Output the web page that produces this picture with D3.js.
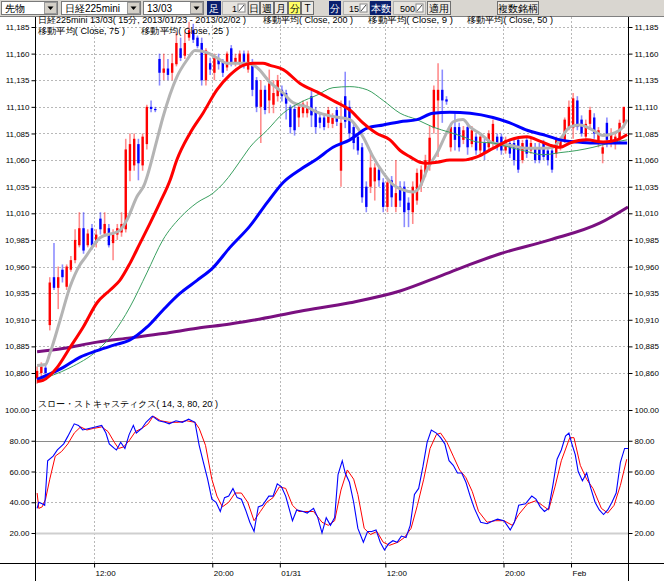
<!DOCTYPE html>
<html><head><meta charset="utf-8">
<script src="https://cdn.jsdelivr.net/npm/d3@7"></script>
<style>
body{margin:0;background:#fff;}
svg{display:block;}
text{font-family:"Liberation Sans",Arial,sans-serif;}
</style></head><body>
<svg id="c" width="664" height="581"></svg>
<script>
// ---------------- data ----------------
const opens  = [10855,10860,10865,10905,10950,10940,10957,10941,10957,10966,10980,10996,10980,10996,10982,11005,10991,10996,10982,10990,10992,10995,11050,11055,11075,11055,11075,11110,11108,11155,11142,11146,11142,11150,11165,11158,11175,11182,11175,11170,11135,11151,11142,11155,11152,11147,11165,11151,11151,11160,11145,11152,11135,11110,11126,11116,11112,11120,11126,11123,11110,11108,11100,11104,11104,11120,11107,11100,11100,11095,11094,11107,11050,11120,11110,11091,11082,11072,11035,11035,11040,11051,11039,11016,11041,11016,11035,11035,11020,11011,11022,11036,11047,11057,11090,11116,11126,11117,11072,11091,11091,11079,11091,11075,11082,11069,11076,11072,11076,11082,11082,11069,11076,11076,11079,11060,11079,11069,11072,11072,11076,11069,11069,11066,11072,11079,11091,11090,11116,11098,11082,11094,11100,11076,11066,11095,11076,11075,11080,11095];
const highs  = [10866,10870,10868,10950,10982,10960,10962,10962,10970,10995,11011,11011,10995,11000,10995,11011,11011,11000,10995,11000,11011,11080,11085,11085,11080,11085,11112,11116,11110,11160,11160,11155,11160,11180,11175,11180,11190,11188,11177,11175,11165,11156,11160,11160,11155,11162,11168,11160,11163,11163,11163,11155,11138,11135,11130,11145,11135,11140,11130,11126,11112,11112,11113,11116,11115,11125,11110,11105,11104,11110,11104,11110,11116,11143,11116,11095,11085,11076,11040,11069,11057,11055,11043,11043,11045,11060,11040,11040,11025,11040,11052,11055,11065,11092,11130,11151,11145,11120,11095,11104,11095,11092,11095,11092,11085,11085,11080,11088,11098,11085,11085,11082,11079,11079,11082,11079,11082,11080,11076,11076,11079,11072,11072,11082,11082,11100,11116,11123,11120,11102,11098,11110,11104,11091,11076,11100,11090,11085,11098,11110];
const lows   = [10850,10855,10856,10900,10938,10920,10945,10938,10955,10963,10978,10972,10978,10976,10978,10990,10988,10978,10966,10985,10988,10992,11040,11050,11041,11050,11070,11105,11105,11130,11135,11135,11135,11148,11153,11155,11172,11170,11165,11130,11130,11140,11135,11145,11138,11144,11148,11148,11148,11146,11142,11120,11105,11076,11103,11104,11104,11115,11115,11098,11085,11083,11091,11100,11100,11091,11085,11090,11088,11090,11090,11092,11035,11090,11080,11070,11065,11020,11011,11029,11022,11035,11011,11011,11016,11011,11016,10997,10997,11000,11018,11030,11044,11050,11085,11063,11095,11112,11068,11069,11068,11075,11065,11072,11065,11065,11060,11069,11072,11069,11065,11066,11062,11055,11048,11057,11062,11066,11057,11057,11060,11055,11048,11062,11069,11076,11088,11080,11088,11082,11079,11090,11080,11072,11057,11072,11072,11070,11076,11090];
const closes = [10862,10866,10860,10945,10940,10950,10950,10960,10966,10985,10996,10975,10991,10980,10990,10995,11000,10980,10990,10996,11000,11070,11075,11080,11057,11082,11110,11108,11107,11142,11146,11140,11151,11170,11156,11170,11182,11173,11167,11135,11163,11145,11156,11150,11142,11160,11151,11156,11160,11151,11160,11126,11110,11126,11107,11132,11123,11135,11120,11113,11091,11088,11110,11113,11110,11102,11091,11095,11091,11107,11100,11096,11095,11096,11085,11076,11069,11025,11016,11053,11053,11041,11016,11039,11025,11029,11022,11011,11013,11035,11048,11051,11060,11081,11126,11126,11116,11115,11091,11079,11072,11088,11072,11088,11069,11082,11066,11085,11094,11072,11069,11079,11066,11060,11051,11076,11066,11076,11060,11060,11063,11060,11051,11079,11079,11098,11110,11118,11091,11085,11094,11107,11085,11088,11072,11079,11085,11082,11095,11110];

// moving averages: [bar index, price]
const ma200 = [[0,10880],[6.1,10883],[14.2,10889],[22,10893],[29.8,10897],[37.9,10902],[45.7,10906],[50.4,10909],[62.3,10918],[74.1,10926],[86,10937],[95.5,10951],[102.6,10962],[109.7,10972],[121.5,10985],[133.4,11001],[140,11016]];
const ma9 = [[0,10867],[2,10868],[3,10878],[5.4,10909],[7.8,10941],[10.2,10962],[11.3,10968],[14.9,10987],[19.6,10994],[21.3,11004],[23.7,11026],[25.3,11036],[28.4,11079],[29.8,11100],[33.1,11138],[35.5,11154],[37.4,11163],[40.3,11161],[42.6,11156],[45,11151],[47.4,11151],[49.7,11151],[52.1,11147],[55.2,11133],[58.3,11123],[60.6,11114],[63.9,11110],[66.3,11105],[70.1,11101],[74.1,11098],[77.2,11082],[79.6,11063],[82,11048],[84.3,11037],[86.7,11032],[89.1,11030],[90.7,11035],[92.4,11051],[94.8,11067],[97.1,11086],[98.6,11096],[100.9,11098],[102.6,11091],[104.9,11085],[108,11076],[112,11074],[116.1,11071],[119.8,11071],[122.2,11072],[123.9,11079],[126.2,11091],[128.6,11093],[131.7,11088],[134.1,11083],[136.5,11085],[138.8,11091],[139.8,11098]];
const ma50 = [[0,10853],[7.8,10865],[14.2,10881],[18,10897],[22,10922],[26,10954],[29.8,10985],[33.9,11006],[37.9,11020],[41.7,11029],[44.1,11038],[48.8,11063],[50.4,11072],[54.5,11088],[58.3,11104],[62.3,11114],[66.3,11121],[70.1,11128],[74.1,11129],[78.2,11126],[82,11116],[86,11104],[90,11098],[93.8,11091],[97.8,11086],[100.9,11082],[104.2,11077],[108,11076],[112,11072],[116.1,11068],[119.8,11065],[123.9,11067],[127.9,11069],[131.7,11072],[135.7,11076],[139.8,11079]];
const ma75 = [[0,10854],[6.1,10865],[10.2,10875],[14.2,10881],[18,10886],[22,10891],[26,10903],[29.8,10919],[33.9,10935],[37.9,10947],[41.7,10959],[45.7,10978],[50.4,10998],[54.5,11020],[58.3,11039],[62.3,11051],[66.3,11061],[70.1,11072],[74.1,11079],[78.2,11090],[82,11093],[86,11096],[90,11098],[93.8,11104],[97.8,11105],[102.6,11104],[108,11100],[112,11095],[116.1,11088],[119.8,11084],[123.9,11079],[127.9,11077],[131.7,11076],[135.7,11076],[139.8,11076]];
const ma25 = [[0,10852],[1.4,10853],[4.7,10865],[7.8,10884],[10.9,10903],[14.2,10926],[17.3,10938],[19.6,10947],[22,10963],[24.4,10982],[26.8,11001],[29.1,11020],[31.5,11041],[33.1,11060],[36.2,11085],[39.3,11104],[42.6,11126],[45.7,11140],[48.8,11149],[51.2,11151],[53.5,11151],[55.2,11149],[58.3,11145],[62.3,11132],[66.3,11124],[70.1,11116],[74.1,11107],[77.2,11095],[80.5,11085],[83.6,11079],[86,11069],[88.4,11063],[90.7,11058],[92.4,11057],[94.8,11058],[97.8,11060],[100.9,11060],[104.2,11063],[108,11071],[112,11079],[116.1,11082],[118.4,11079],[121.5,11074],[123.9,11072],[126.2,11076],[130.3,11079],[134.1,11077],[137.4,11079],[139.8,11084]];

// slow stochastics: [bar index, value]
const stochK = [[0,36],[0.4,40],[1.2,39],[1.8,38],[2.5,67],[3.8,70],[4.8,74],[6.3,78],[7.3,83],[8.8,91],[9.8,90],[10.8,87],[12.3,88],[13.8,89],[15.3,90],[16.3,85],[17.1,78],[18.3,75],[18.8,74],[19.8,79],[20.8,75],[21.8,84],[22.8,90],[23.5,85],[24.8,88],[25.8,92],[27.3,96],[28.8,93],[30.3,92],[31.3,91],[32.9,93],[34.4,92],[35.9,94],[37.4,92],[38.4,77],[39.4,66],[40.4,55],[41.4,42],[42.4,40],[43.4,34],[44.4,43],[45.4,44],[46.4,49],[47.4,43],[48.4,42],[49.4,35],[50.4,27],[51.4,21],[52.4,37],[53.4,38],[54.9,44],[55.9,44],[56.9,52],[57.9,50],[58.9,44],[60.5,28],[61.5,35],[63,34],[64,33],[65.5,36],[66.5,30],[67.5,20],[68.5,30],[69.5,25],[70.5,30],[71.3,58],[72.3,67],[73,59],[74,53],[75,40],[76,23],[77.3,14],[78.3,21],[79.3,21],[80.3,22],[81.3,14],[82.3,9],[83.3,13],[84.3,15],[85.3,14],[86.3,18],[87.4,17],[88.4,25],[89.4,45],[90.4,49],[91.4,63],[92.4,79],[93.4,87],[94.6,85],[95.6,82],[96.6,78],[97.6,67],[98.6,64],[99.6,59],[100.6,59],[101.6,53],[102.6,44],[103.6,36],[105.1,27],[106.6,26],[108.1,28],[109.1,29],[110.6,28],[112.1,22],[113.1,27],[114.1,38],[115.7,39],[117.2,44],[118.2,42],[119.2,37],[120.2,34],[121.2,36],[122.2,51],[123.2,68],[124.2,74],[125.2,83],[126,85],[126.7,78],[127.5,71],[128.2,60],[129.2,54],[130.2,59],[131.2,49],[132.2,40],[133.2,35],[134.2,32],[135.2,35],[136.2,40],[137.2,46],[138.2,66],[139.2,75],[140,75]];
const stochD = [[0,46],[0.4,36],[1.2,37],[2,42],[3,55],[4.3,70],[5.8,73],[7.3,78],[8.8,85],[10.3,89],[11.8,87],[13.3,88],[15.3,89],[16.8,86],[18.3,79],[19.3,75],[20.5,76],[21.8,80],[23.3,86],[24.8,88],[26.3,91],[27.5,96],[29.3,93],[31.3,92],[33.4,92],[35.4,93],[37.4,92],[38.4,88],[39.9,77],[41.4,55],[42.6,44],[43.9,37],[45.4,40],[46.9,46],[48.4,46],[49.9,40],[51.4,28],[52.9,34],[54.4,40],[55.9,43],[57.4,50],[58.9,49],[60.5,38],[62,34],[63.5,34],[65.5,34],[67.5,27],[69,25],[70.5,28],[72,48],[73.5,61],[75,55],[76,45],[77.5,23],[79,19],[80.5,21],[82,14],[83.5,12],[85.5,14],[87,17],[88.6,23],[90.1,38],[91.6,55],[93.1,75],[94.6,84],[95.6,85],[97.1,79],[98.6,70],[100.1,61],[101.6,56],[103.1,47],[104.6,34],[106.6,27],[108.6,28],[110.6,28],[112.6,25],[114.1,32],[116.2,39],[118.2,41],[119.7,38],[121.2,35],[122.7,50],[124.2,67],[126.2,82],[127.2,82],[128.7,64],[130.2,55],[131.7,49],[133.7,36],[135.2,33],[136.7,38],[138.2,51],[139.7,68]];

const xTickIdx = [14,42,58,83,111,127];
const xTickLabels = ["12:00","20:00","01/31","12:00","20:00","Feb"];
const priceTicks = [10860,10885,10910,10935,10960,10985,11010,11035,11060,11085,11110,11135,11160,11185];
const stochTicks = [20,40,60,80,100];

// ---------------- drawing ----------------
const svg = d3.select("#c");
const L = 35, R = 628;
const x = d3.scaleLinear().domain([0,140.5]).range([L,R]);
const y = d3.scaleLinear().domain([10860,11185]).range([373,27]);
const ys = d3.scaleLinear().domain([20,100]).range([533,410]);

const defs = svg.append("defs");
defs.append("clipPath").attr("id","cm").append("rect").attr("x",L+1).attr("y",17).attr("width",R-L-1).attr("height",376);
defs.append("clipPath").attr("id","cs").append("rect").attr("x",L+1).attr("y",395).attr("width",R-L-1).attr("height",168);

// toolbar
const tb = svg.append("g");
tb.append("rect").attr("x",0).attr("y",0).attr("width",664).attr("height",16).attr("fill","#d9d6d0");
tb.append("line").attr("x1",0).attr("x2",664).attr("y1",16.5).attr("y2",16.5).attr("stroke","#808080");
const jp = '"Noto Sans CJK JP","Noto Sans",sans-serif';
function combo(x0,x1,label){
  tb.append("rect").attr("x",x0+0.5).attr("y",1.5).attr("width",x1-x0).attr("height",13).attr("fill","#fff").attr("stroke","#7a7a7a");
  tb.append("text").attr("x",x0+4).attr("y",12).attr("font-size",10).attr("font-family",jp).text(label);
  tb.append("rect").attr("x",x1-12.5).attr("y",2.5).attr("width",12).attr("height",11).attr("fill","#d4d0c8").attr("stroke","#9a9a9a");
  tb.append("path").attr("d",`M${x1-9.5},6.5 h6 l-3,3.5 z`).attr("fill","#000");
}
combo(1,57,"先物"); combo(61,140,"日経225mini"); combo(143,203,"13/03");
function navy(x0,w,label){
  tb.append("rect").attr("x",x0).attr("y",1).attr("width",w).attr("height",14).attr("fill","#0a1f6e");
  tb.append("text").attr("x",x0+w/2).attr("y",12).attr("text-anchor","middle").attr("font-size",10).attr("font-family",jp).attr("fill","#fff").text(label);
}
function btn(x0,w,label,bg){
  tb.append("rect").attr("x",x0+0.5).attr("y",1.5).attr("width",w).attr("height",13).attr("fill",bg||"#ece9e4").attr("stroke","#6f6f6f");
  tb.append("text").attr("x",x0+w/2+0.5).attr("y",12).attr("text-anchor","middle").attr("font-size",10).attr("font-family",jp).text(label);
}
function spin(x0,x1,label){
  tb.append("rect").attr("x",x0+0.5).attr("y",1.5).attr("width",x1-x0).attr("height",13).attr("fill","#e6e3de").attr("stroke","#b0b0b0");
  tb.append("text").attr("x",x1-10).attr("y",12).attr("text-anchor","end").attr("font-size",9).attr("font-family",'"Liberation Sans",sans-serif').text(label);
  tb.append("rect").attr("x",x1-9).attr("y",4).attr("width",7).attr("height",8).attr("fill","#fff").attr("stroke","#888");
  tb.append("path").attr("d",`M${x1-8},11 L${x1-3},5`).attr("stroke","#444").attr("fill","none");
}
navy(207,14,"足");
spin(222,247,"1");
btn(248,11,"日"); btn(260,13,"週"); btn(274,13,"月"); btn(288,12,"分","#ffff66"); btn(301,12,"T");
navy(329,12,"分");
spin(343,369,"15");
navy(370,21,"本数");
spin(393,425,"500");
btn(427,23,"適用");
btn(497,41,"複数銘柄");

// grid
const grid = svg.append("g");
grid.selectAll(".hg").data(priceTicks).join("line")
  .attr("x1",L).attr("x2",R).attr("y1",d=>Math.round(y(d))+0.5).attr("y2",d=>Math.round(y(d))+0.5)
  .attr("stroke","#b8b8b8").attr("stroke-dasharray","2,2");
grid.selectAll(".vg").data(xTickIdx).join("line")
  .attr("x1",d=>Math.round(x(d))+0.5).attr("x2",d=>Math.round(x(d))+0.5).attr("y1",17).attr("y2",563)
  .attr("stroke","#b8b8b8").attr("stroke-dasharray","2,2");
grid.selectAll(".sg").data(stochTicks.filter(d=>d!==80 && d!==20)).join("line")
  .attr("x1",L).attr("x2",R).attr("y1",d=>Math.round(ys(d))+0.5).attr("y2",d=>Math.round(ys(d))+0.5)
  .attr("stroke","#b8b8b8").attr("stroke-dasharray","2,2");
grid.append("line").attr("x1",L).attr("x2",R).attr("y1",Math.round(ys(80))+0.5).attr("y2",Math.round(ys(80))+0.5).attr("stroke","#8a8a8a");
grid.append("line").attr("x1",L).attr("x2",R).attr("y1",Math.round(ys(20))+0.5).attr("y2",Math.round(ys(20))+0.5).attr("stroke","#cfcfcf").attr("stroke-width",2);

// candles
const main = svg.append("g").attr("clip-path","url(#cm)");
const bars = opens.map((o,i)=>({i,o,h:highs[i],l:lows[i],c:closes[i]}));
const col = d=> d.c>=d.o ? "#ff0000" : "#0000ff";
main.selectAll(".wick").data(bars).join("line")
  .attr("x1",d=>x(d.i+0.5)).attr("x2",d=>x(d.i+0.5)).attr("y1",d=>y(d.h)).attr("y2",d=>y(d.l))
  .attr("stroke",col).attr("stroke-width",1.6).attr("stroke-opacity",0.45);
main.selectAll(".body").data(bars).join("rect")
  .attr("x",d=>x(d.i+0.5)-1.2).attr("width",2.4)
  .attr("y",d=>y(Math.max(d.o,d.c))).attr("height",d=>Math.max(1.2,Math.abs(y(d.o)-y(d.c))))
  .attr("fill",col);

// moving averages
const line = d3.line().x(d=>x(d[0]+0.5)).y(d=>y(d[1])).curve(d3.curveMonotoneX);
[[ma200,"#7a1080",3],[ma9,"#b4b4b4",3],[ma50,"#3aa060",1],[ma75,"#0000ff",3],[ma25,"#ff0000",3]].forEach(([data,c,w])=>{
  main.append("path").datum(data).attr("d",line).attr("fill","none").attr("stroke",c).attr("stroke-width",w).attr("stroke-linejoin","round");
});

// stochastics
const sg = svg.append("g").attr("clip-path","url(#cs)");
const sline = d3.line().x(d=>x(d[0]+0.5)).y(d=>ys(d[1]));
sg.append("path").datum(stochD).attr("d",sline).attr("fill","none").attr("stroke","#ff0000").attr("stroke-width",1);
sg.append("path").datum(stochK).attr("d",sline).attr("fill","none").attr("stroke","#0000ff").attr("stroke-width",1.1);

// axes
function styleAxis(g){
  g.select(".domain").remove();
  g.selectAll(".tick line").attr("stroke","#000");
  g.selectAll(".tick text").attr("font-size",8).attr("fill","#000").attr("font-family",'"Liberation Sans",Arial,sans-serif');
}
svg.append("g").attr("transform",`translate(${L+0.5},0)`).call(d3.axisLeft(y).tickValues(priceTicks).tickFormat(d3.format(",")).tickSize(4).tickPadding(2)).call(styleAxis);
svg.append("g").attr("transform",`translate(${R+0.5},0)`).call(d3.axisRight(y).tickValues(priceTicks).tickFormat(d3.format(",")).tickSize(4).tickPadding(2)).call(styleAxis);
svg.append("g").attr("transform",`translate(${L+0.5},0)`).call(d3.axisLeft(ys).tickValues(stochTicks).tickFormat(d3.format(".2f")).tickSize(4).tickPadding(2)).call(styleAxis);
svg.append("g").attr("transform",`translate(${R+0.5},0)`).call(d3.axisRight(ys).tickValues(stochTicks).tickFormat(d3.format(".2f")).tickSize(4).tickPadding(2)).call(styleAxis);
const bx = svg.append("g").attr("transform","translate(0,563.5)").call(d3.axisBottom(x).tickValues(xTickIdx).tickFormat((d,i)=>xTickLabels[i]).tickSize(4).tickPadding(3)).call(styleAxis);
bx.selectAll(".tick text").attr("text-anchor","start").attr("dx",1);

// frame lines
svg.append("line").attr("x1",L+0.5).attr("x2",L+0.5).attr("y1",17).attr("y2",581).attr("stroke","#000");
svg.append("line").attr("x1",R+0.5).attr("x2",R+0.5).attr("y1",17).attr("y2",581).attr("stroke","#000");
svg.append("line").attr("x1",0).attr("x2",664).attr("y1",563.5).attr("y2",563.5).attr("stroke","#000");

// header texts
const ht = svg.append("g").attr("font-family",jp).attr("font-size",9).attr("fill","#000");
[[38,23,"日経225mini 13/03( 15分, 2013/01/23 - 2013/02/02 )",208],
 [263,23,"移動平均( Close, 200 )",90],
 [368,23,"移動平均( Close, 9 )",85],
 [467,23,"移動平均( Close, 50 )",86],
 [38,34,"移動平均( Close, 75 )",87],
 [141,34,"移動平均( Close, 25 )",88],
 [38,407,"スロー・ストキャスティクス( 14, 3, 80, 20 )",180]
].forEach(([tx,ty,s,w])=>{
  ht.append("text").attr("x",tx).attr("y",ty).attr("textLength",w).attr("lengthAdjust","spacingAndGlyphs").text(s);
});
</script>
</body></html>
